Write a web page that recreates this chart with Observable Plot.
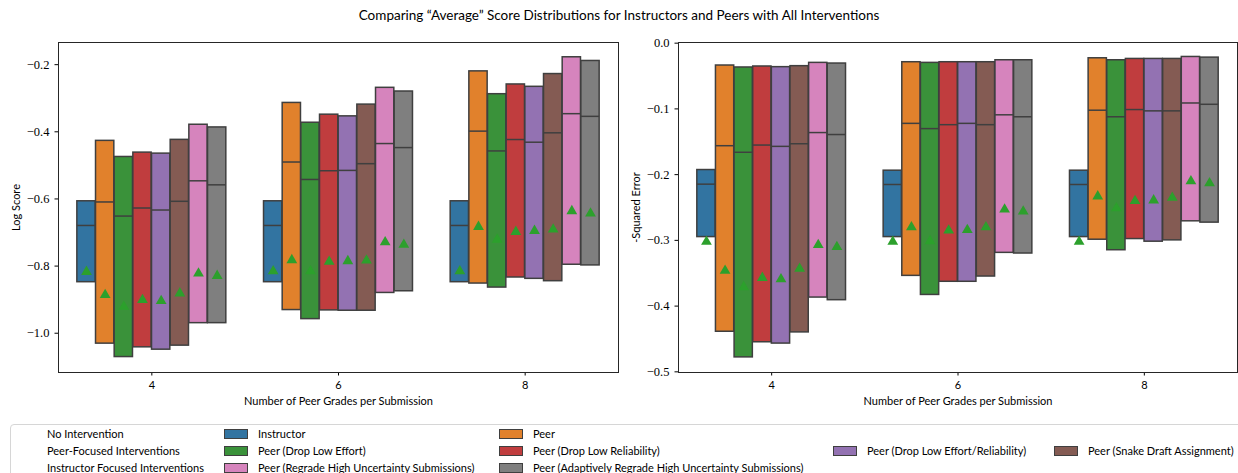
<!DOCTYPE html>
<html>
<head>
<meta charset="utf-8">
<script src="https://cdn.jsdelivr.net/npm/d3@7"></script>
<script src="https://cdn.jsdelivr.net/npm/@observablehq/plot@0.6"></script>
<style>
  body { margin: 0; background: #fff; }
  #fig { position: relative; width: 1238px; height: 473px; overflow: hidden; font-family: Lato, "DejaVu Sans", sans-serif; color: #000; }
  #title { position: absolute; left: 0; width: 1238px; top: 7px; text-align: center; font-size: 13.5px; }
  .panel { position: absolute; top: 30px; }
  #legend { position: absolute; left: 10px; top: 424px; width: 1300px; height: 70px; border: 1px solid #d6d6d6; border-radius: 4px; font-size: 11px; }
  .lg-item { position: absolute; white-space: nowrap; line-height: 12px; }
  .lg-swatch { position: absolute; width: 22px; height: 8px; border: 1px solid #3f3f3f; }
</style>
</head>
<body>
<div id="fig">
  <div id="title">Comparing “Average” Score Distributions for Instructors and Peers with All Interventions</div>
  <div id="left" class="panel" style="left:0px"></div>
  <div id="right" class="panel" style="left:620px"></div>
  <div id="legend"></div>
</div>
<script>
// Groups on the x axis: number of peer grades per submission
const groups = ["4", "6", "8"];

// Grading strategies, one box per strategy within each group
const series = [
  "Instructor",
  "Peer",
  "Peer (Drop Low Effort)",
  "Peer (Drop Low Reliability)",
  "Peer (Drop Low Effort/Reliability)",
  "Peer (Snake Draft Assignment)",
  "Peer (Regrade High Uncertainty Submissions)",
  "Peer (Adaptively Regrade High Uncertainty Submissions)"
];
const colors = ["#3274a1", "#e1812c", "#3a923a", "#c03d3e", "#9372b2", "#845b53", "#d684bd", "#7f7f7f"];

// Log score: rows are groups (4, 6, 8), columns follow `series`
const logUpper = [
  [-0.607, -0.427, -0.475, -0.462, -0.465, -0.424, -0.379, -0.387],
  [-0.607, -0.314, -0.373, -0.349, -0.354, -0.319, -0.269, -0.280],
  [-0.607, -0.220, -0.288, -0.259, -0.266, -0.228, -0.178, -0.189]
];
const logMedian = [
  [-0.679, -0.609, -0.651, -0.627, -0.633, -0.607, -0.546, -0.558],
  [-0.679, -0.490, -0.542, -0.516, -0.515, -0.495, -0.435, -0.447],
  [-0.679, -0.398, -0.457, -0.423, -0.431, -0.403, -0.346, -0.354]
];
const logLower = [
  [-0.848, -1.031, -1.071, -1.042, -1.049, -1.037, -0.970, -0.970],
  [-0.848, -0.931, -0.958, -0.932, -0.933, -0.933, -0.880, -0.875],
  [-0.848, -0.852, -0.864, -0.834, -0.838, -0.845, -0.796, -0.798]
];
const logMean = [
  [-0.817, -0.886, -0.921, -0.901, -0.904, -0.881, -0.822, -0.829],
  [-0.815, -0.782, -0.815, -0.787, -0.785, -0.783, -0.729, -0.736],
  [-0.815, -0.683, -0.721, -0.698, -0.695, -0.691, -0.636, -0.643]
];

// Negative squared error: same layout
const sqUpper = [
  [-0.193, -0.034, -0.037, -0.0355, -0.0365, -0.035, -0.030, -0.031],
  [-0.194, -0.029, -0.030, -0.029, -0.029, -0.029, -0.026, -0.026],
  [-0.194, -0.023, -0.026, -0.024, -0.024, -0.024, -0.021, -0.022]
];
const sqMedian = [
  [-0.2145, -0.156, -0.166, -0.155, -0.157, -0.153, -0.136, -0.139],
  [-0.215, -0.122, -0.130, -0.124, -0.122, -0.124, -0.109, -0.112],
  [-0.215, -0.102, -0.112, -0.101, -0.103, -0.103, -0.091, -0.093]
];
const sqLower = [
  [-0.295, -0.439, -0.478, -0.455, -0.457, -0.440, -0.387, -0.391],
  [-0.295, -0.354, -0.383, -0.363, -0.363, -0.355, -0.319, -0.320],
  [-0.295, -0.299, -0.315, -0.298, -0.302, -0.300, -0.271, -0.273]
];
const sqMean = [
  [-0.302, -0.346, -0.371, -0.357, -0.359, -0.343, -0.307, -0.310],
  [-0.302, -0.280, -0.301, -0.285, -0.284, -0.280, -0.253, -0.256],
  [-0.302, -0.233, -0.251, -0.240, -0.239, -0.235, -0.210, -0.213]
];

// Legend rows: category label and the strategies listed beside it
const legendRows = [
  ["No Intervention", [0, 1]],
  ["Peer-Focused Interventions", [2, 3, 4, 5]],
  ["Instructor Focused Interventions", [6, 7]]
];

const EDGE = "#3f3f3f";
const BOX = 0.1;           // each group spans 0.8 of a unit, split across 8 boxes
const HALF = BOX * 0.98 / 2;

function tidy(upper, median, lower, mean) {
  const rows = [];
  groups.forEach((g, gi) => series.forEach((s, si) => rows.push({
    group: g, gi, series: s, si,
    q3: upper[gi][si], med: median[gi][si], q1: lower[gi][si], mean: mean[gi][si]
  })));
  return rows;
}
const center = d => d.gi + (d.si - (series.length - 1) / 2) * BOX;

function panel(rows, yLabel, yDomain, yTicks, width, marginRight) {
  return Plot.plot({
    width, height: 378,
    marginLeft: 58, marginRight, marginTop: 12, marginBottom: 36,
    style: { fontFamily: "Lato, sans-serif", fontSize: "11px", background: "transparent", color: "#000" },
    x: {
      domain: [-0.5, groups.length - 0.5], ticks: d3.range(groups.length), tickFormat: i => groups[i],
      tickSize: 3.5, label: "Number of Peer Grades per Submission", labelAnchor: "center", labelOffset: 32, labelArrow: "none"
    },
    y: { domain: yDomain },
    color: { domain: series, range: colors },
    marks: [
      // numeric tick labels set in a serif face
      Plot.axisY({
        ticks: yTicks, tickFormat: d3.format(".1f"), tickSize: 3.5, label: null,
        fontFamily: "Liberation Serif, DejaVu Serif, serif", fontSize: 12.5
      }),
      // axis title in the sans face
      Plot.axisY({
        ticks: [], tickSize: 0, label: yLabel, labelAnchor: "center", labelOffset: 46, labelArrow: "none",
        fontFamily: "Lato, sans-serif", fontSize: 11
      }),
      Plot.rect(rows, { x1: d => center(d) - HALF, x2: d => center(d) + HALF, y1: "q1", y2: "q3", fill: "series", stroke: EDGE, strokeWidth: 1.5 }),
      Plot.ruleY(rows, { x1: d => center(d) - HALF, x2: d => center(d) + HALF, y: "med", stroke: EDGE, strokeWidth: 1.5 }),
      Plot.dot(rows, { x: center, y: "mean", symbol: "triangle", fill: "#2ca02c", r: 4 }),
      Plot.frame({ stroke: "#262626", strokeWidth: 1 })
    ]
  });
}

document.getElementById("left").append(
  panel(tidy(logUpper, logMedian, logLower, logMean), "Log Score",
        [-1.117, -0.134], [-1.0, -0.8, -0.6, -0.4, -0.2], 620, 2)
);
document.getElementById("right").append(
  panel(tidy(sqUpper, sqMedian, sqLower, sqMean), "-Squared Error",
        [-0.501, 0.001], [-0.5, -0.4, -0.3, -0.2, -0.1, 0.0], 618, 1)
);

// Legend: category label, then swatches in fixed columns
const legend = document.getElementById("legend");
const swatchCols = [213, 488, 822, 1043];
legendRows.forEach(([label, idx], r) => {
  const top = 3 + r * 17;
  const lab = document.createElement("div");
  lab.className = "lg-item";
  lab.style.left = "36px"; lab.style.top = top + "px";
  lab.textContent = label;
  legend.append(lab);
  idx.forEach((si, c) => {
    const sw = document.createElement("div");
    sw.className = "lg-swatch";
    sw.style.left = swatchCols[c] + "px"; sw.style.top = (top + 1) + "px";
    sw.style.background = colors[si];
    legend.append(sw);
    const t = document.createElement("div");
    t.className = "lg-item";
    t.style.left = (swatchCols[c] + 34) + "px"; t.style.top = top + "px";
    t.textContent = series[si];
    legend.append(t);
  });
});
</script>
</body>
</html>
